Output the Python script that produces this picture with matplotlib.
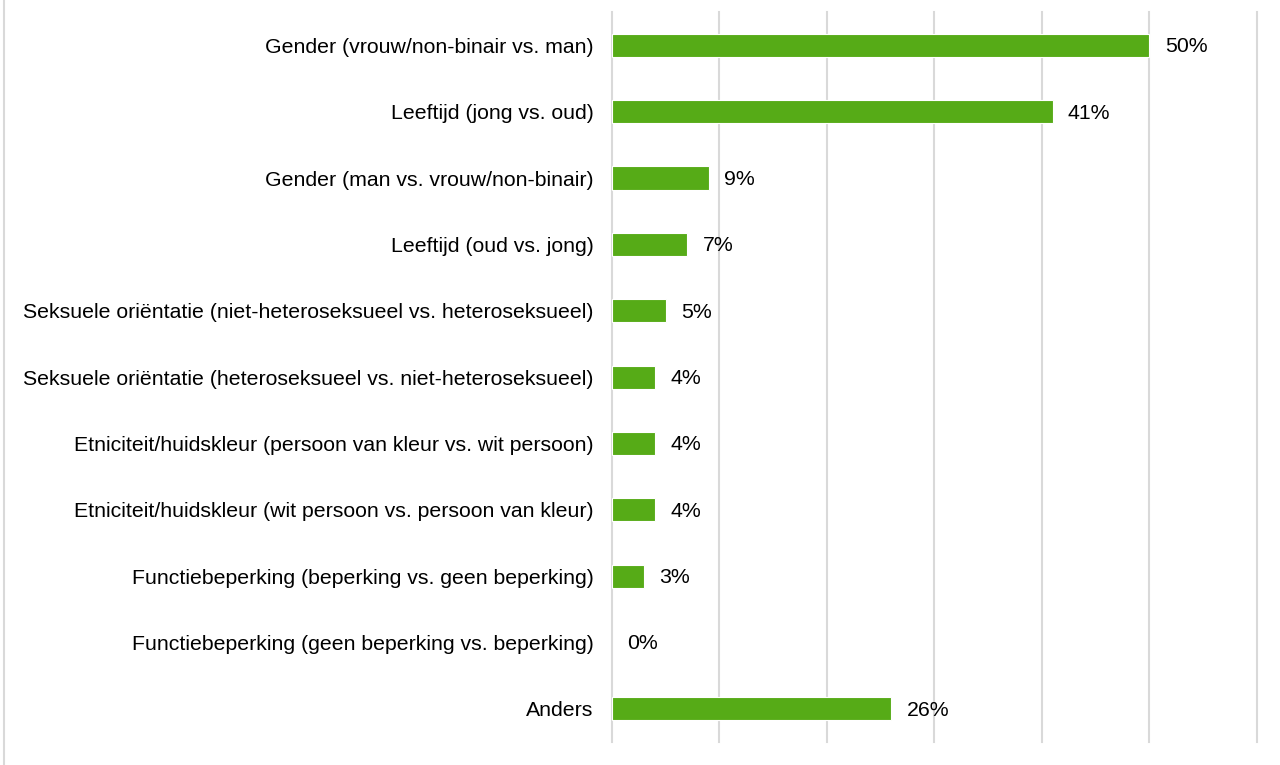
import matplotlib.pyplot as plt
from matplotlib.lines import Line2D

categories = [
    "Gender (vrouw/non-binair vs. man)",
    "Leeftijd (jong vs. oud)",
    "Gender (man vs. vrouw/non-binair)",
    "Leeftijd (oud vs. jong)",
    "Seksuele oriëntatie (niet-heteroseksueel vs. heteroseksueel)",
    "Seksuele oriëntatie (heteroseksueel vs. niet-heteroseksueel)",
    "Etniciteit/huidskleur (persoon van kleur vs. wit persoon)",
    "Etniciteit/huidskleur (wit persoon vs. persoon van kleur)",
    "Functiebeperking (beperking vs. geen beperking)",
    "Functiebeperking (geen beperking vs. beperking)",
    "Anders",
]
values = [50, 41, 9, 7, 5, 4, 4, 4, 3, 0, 26]

plt.rcParams['font.family'] = ['Liberation Sans', 'DejaVu Sans']

fig = plt.figure(figsize=(12.8, 7.65), dpi=100)
ax = fig.add_axes([0.478, 0.030, 0.504, 0.954])

y = list(range(len(categories)))
ax.barh(y, values, height=0.35, color='#56ab17', edgecolor='white',
        linewidth=[0.8 if v > 0 else 0 for v in values], zorder=3)

for yi, v in zip(y, values):
    ax.annotate(f"{v}%", (v, yi), xytext=(11, -1), textcoords='offset points',
                va='center', ha='left', fontsize=15.3, color='black')

ax.set_xlim(0, 60)
ax.set_ylim(len(categories) - 0.5, -0.5)
ax.set_xticks(range(0, 61, 10))
ax.set_xticklabels([])
ax.set_yticks(y)
ax.set_yticklabels(categories, fontsize=15.3)
ax.tick_params(axis='both', length=0)
ax.tick_params(axis='y', pad=13)
ax.grid(axis='x', color='#d9d9d9', linewidth=1.5, zorder=0)
for gl in ax.get_xgridlines():
    gl.set_clip_on(False)
for s in ax.spines.values():
    s.set_visible(False)

# thin frame line on the left edge
fig.add_artist(Line2D([0.0035, 0.0035], [0, 1], transform=fig.transFigure,
                      color='#d9d9d9', linewidth=1.5))

fig.savefig('out.png', dpi=100, facecolor='white')
